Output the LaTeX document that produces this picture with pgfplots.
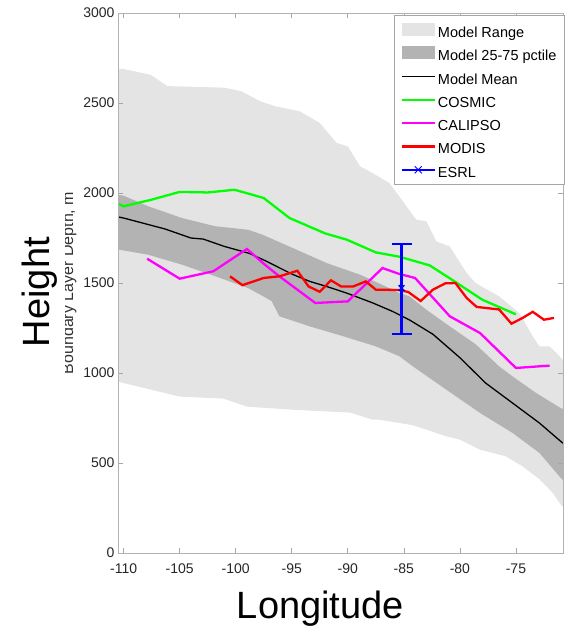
\documentclass[border=0pt]{standalone}
\usepackage{pgfplots}
\pgfplotsset{compat=1.18}
\usepackage{fontspec}
\setmainfont{Liberation Sans}
\definecolor{lightrange}{RGB}{228,228,228}
\definecolor{darkrange}{RGB}{179,179,179}
\begin{document}
\begin{tikzpicture}
\useasboundingbox (0,0) rectangle (566pt,629pt);
\begin{scope}
\clip (65pt,0pt) rectangle (82pt,629pt);
\node[rotate=90, anchor=base, font=\fontsize{16}{18}\selectfont, text=black!80] at (73pt,346pt) {Boundary Layer Depth, m};
\end{scope}
\begin{axis}[
  at={(118pt,76pt)}, anchor=south west,
  width=445pt, height=540pt, scale only axis,
  xmin=-110.5, xmax=-70.8, ymin=0, ymax=3000,
  xtick={-110,-105,...,-75}, ytick={0,500,...,3000},
  tick align=inside, major tick length=5pt,
  axis line style={gray!60, line width=0.8pt},
  every tick/.style={gray!70, line width=0.6pt},
  axis on top,
  /pgf/number format/assume math mode=true,
  /pgf/number format/1000 sep={},
  tick label style={font=\fontsize{14}{16}\selectfont, text=black!85},
  xticklabel style={yshift=-7pt},
  xlabel={Longitude}, ylabel={Height},
  xlabel style={at={(axis description cs:0.4547,-0.122)}, anchor=base, font=\fontsize{38}{40}\selectfont},
  ylabel style={at={(axis description cs:-0.153,0.483)}, anchor=base, font=\fontsize{38}{40}\selectfont},
  legend cell align=left,
  legend image code/.code={\draw[#1] (0pt,0pt) -- (33pt,0pt);},
  legend style={at={(axis description cs:1.004,0.996)}, anchor=north east,
    draw=gray!70, fill=white, line width=0.6pt,
    font=\fontsize{14.5}{16}\selectfont,
    inner xsep=6pt, inner ysep=2pt, row sep=-1.7pt,
    nodes={inner sep=2pt, text height=18pt, text depth=3pt}},
]
% Model range
\addplot[draw=none, fill=lightrange, legend image code/.code={\fill[lightrange] (0pt,-6pt) rectangle (33pt,7pt);}] coordinates {
(-110.5,2690) (-110,2689) (-107.6,2657) (-106.1,2594) (-103.2,2589) (-101,2585) (-99.5,2565) (-97.8,2509)
(-96.4,2481) (-94.3,2454) (-92.5,2389) (-91,2278) (-90,2259) (-88.9,2148) (-87.8,2111) (-86.3,2056)
(-85.4,1981) (-83.9,1852) (-83,1843) (-82.1,1731) (-80.9,1703) (-79.4,1556) (-78.6,1500) (-76.5,1426)
(-74.7,1333) (-73.5,1204) (-72.9,1148) (-72,1148) (-71.1,1093) (-70.8,1070)
(-70.8,257) (-71,268) (-71.7,333) (-72.9,410) (-74.4,481) (-75.9,537) (-78.2,574) (-80,630)
(-81.2,648) (-84.2,710) (-87.2,741) (-87.8,741) (-89.8,780) (-94.9,796) (-99,813) (-101.1,858)
(-105,869) (-110,944) (-110.5,953)
} -- cycle;
\addlegendentry{Model Range}
% Model 25-75
\addplot[draw=none, fill=darkrange, legend image code/.code={\fill[darkrange] (0pt,-6pt) rectangle (33pt,7pt);}] coordinates {
(-110.5,1990) (-110,1985) (-107.8,1926) (-104.8,1861) (-101.8,1815) (-98.9,1796) (-97.6,1768) (-94.9,1694)
(-91.9,1611) (-88.9,1546) (-86,1463) (-85.4,1444) (-84.5,1426) (-83,1352) (-80.9,1259) (-78.6,1160)
(-76.5,1037) (-75.3,981) (-73.2,889) (-71,805) (-70.8,800)
(-70.8,405) (-71,417) (-72.9,556) (-75.3,667) (-78.2,778) (-81.2,907) (-84.2,1037) (-85.4,1093)
(-87.5,1148) (-90.4,1204) (-93.4,1259) (-96.1,1315) (-96.8,1400) (-97.8,1435) (-98.9,1472) (-101.8,1537)
(-104.8,1602) (-107.8,1657) (-110,1681) (-110.5,1685)
} -- cycle;
\addlegendentry{Model 25-75 pctile}
% Mean
\addplot[black, line width=1.3pt] coordinates {
(-110.4,1866) (-110,1861) (-106.3,1800) (-104,1750) (-102.9,1744) (-101,1703) (-98.8,1665) (-97.4,1625)
(-95,1550) (-93.4,1509) (-91.9,1481) (-90.1,1444) (-87.8,1390) (-86,1342) (-84.5,1295) (-82.4,1215)
(-80,1085) (-77.7,944) (-75.3,833) (-72.9,722) (-71,620) (-70.8,610)
};
\addlegendentry{Model Mean}
% COSMIC
\addplot[color={rgb,255:red,0;green,255;blue,0}, line width=2.3pt] coordinates {
(-110.5,1941) (-110,1926) (-107.5,1963) (-105,2006) (-102.5,2003) (-100.1,2018) (-98.5,1990) (-97.5,1972)
(-95.2,1861) (-92,1775) (-90.1,1741) (-87.5,1670) (-85.4,1646) (-82.7,1598) (-80.6,1514) (-78,1407) (-75,1326)
};
\addlegendentry{COSMIC}
% CALIPSO
\addplot[color={rgb,255:red,255;green,0;blue,255}, line width=2.3pt] coordinates {
(-107.9,1635) (-105,1524) (-102,1565) (-99,1689) (-97.4,1602) (-96.1,1537) (-92.9,1389) (-90,1398)
(-86.9,1583) (-85.4,1550) (-84,1528) (-80.9,1315) (-78.2,1222) (-75,1028) (-72,1041)
};
\addlegendentry{CALIPSO}
% MODIS
\addplot[color={rgb,255:red,255;green,0;blue,0}, line width=2.3pt] coordinates {
(-100.5,1537) (-99.4,1488) (-97.5,1528) (-96.1,1537) (-94.5,1568) (-93.5,1481) (-92.5,1451) (-91.5,1515)
(-90.6,1481) (-89.5,1481) (-88.4,1509) (-87.5,1463) (-85.4,1461) (-84.6,1450) (-83.5,1400) (-82.4,1463)
(-81.3,1498) (-80.4,1500) (-79.4,1417) (-78.5,1367) (-76.5,1353) (-75.4,1274) (-74.4,1306) (-73.5,1340)
(-72.5,1296) (-71.6,1306)
};
\addlegendentry{MODIS}
% ESRL
\addplot[blue, only marks, mark=x, mark size=4pt, mark options={line width=1.5pt},
  legend image code/.code={\draw[blue, line width=2.5pt] (0pt,0pt) -- (33pt,0pt);
    \draw[blue, line width=1pt] (13pt,-3.5pt) -- (20pt,3.5pt) (13pt,3.5pt) -- (20pt,-3.5pt);},
  error bars/.cd, y dir=both, y explicit,
  error bar style={blue, line width=2.5pt},
  error mark options={rotate=90, blue, mark size=10pt, line width=2.5pt}]
  coordinates {(-85.2,1472) += (0,246) -= (0,254)};
\addlegendentry{ESRL}
\end{axis}
\end{tikzpicture}
\end{document}
